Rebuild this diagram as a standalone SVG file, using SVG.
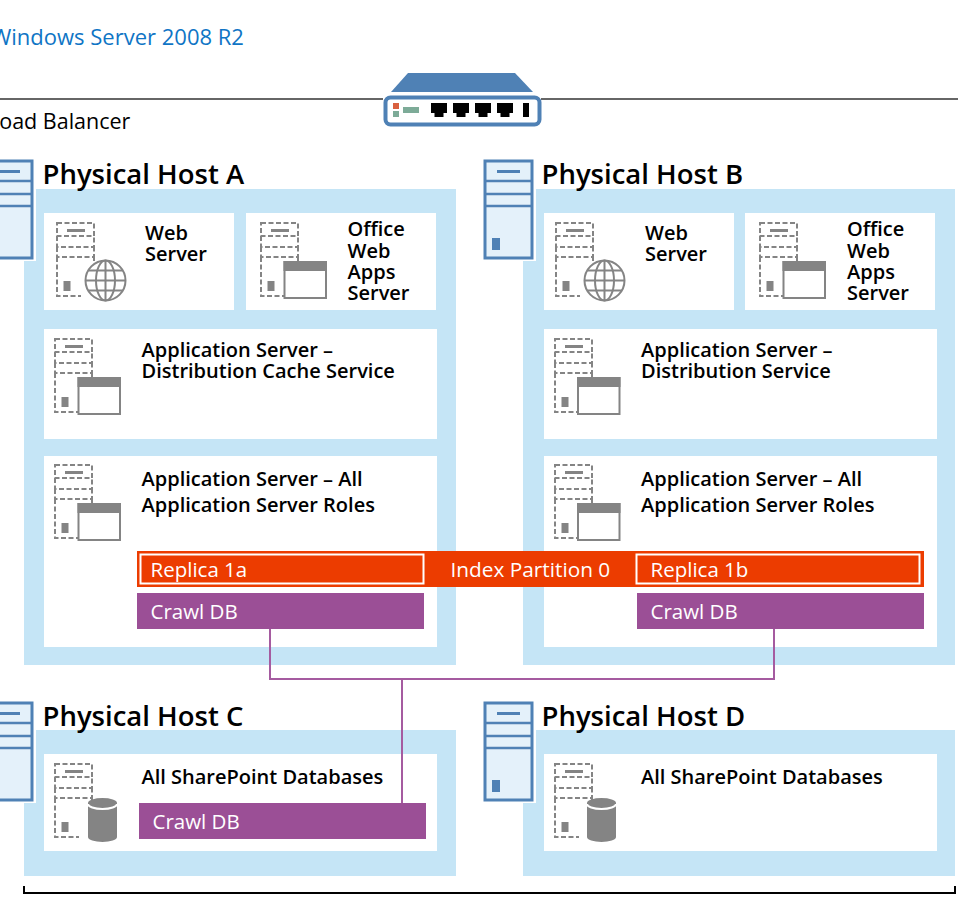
<svg xmlns="http://www.w3.org/2000/svg" width="962" height="898" viewBox="0 0 962 898">
<style>
text{font-family:"Open Sans","Noto Sans","Liberation Sans",sans-serif;fill:#000}
.h{font-size:27.500px;font-weight:600}
.b{font-size:20px;font-weight:600}
.w{font-size:20.500px;font-weight:500;fill:#fff}
.p{fill:#c5e5f6}
.box{fill:#fff}
.sv{fill:#e4f1fa;stroke:#4f81b5;stroke-width:3}
.sl{fill:none;stroke:#4f81b5;stroke-width:2.5}
.d{fill:none;stroke:#848484;stroke-width:2;stroke-dasharray:5 2.5}
.g{fill:#848484}
.o{fill:#ec3c00}
.m{fill:#9b4f96}
.c{fill:none;stroke:#a55ba0;stroke-width:2}
</style>
<defs>
<g id="dash">
<rect class="d" x="0" y="0" width="37" height="13"/>
<path class="d" d="M0 13V24H37V13M0 24V34H37V24M0 34V73H24M37 34V38"/>
<rect class="g" x="10" y="6" width="18" height="3"/>
<rect class="g" x="6.500" y="58" width="7" height="10"/>
</g>
<g id="win">
<rect x="1" y="1" width="41.500" height="36" fill="#fff" stroke="#848484" stroke-width="2"/>
<rect class="g" x="0" y="0" width="43.500" height="10"/>
</g>
<g id="globe" fill="none" stroke="#848484" stroke-width="2">
<circle cx="0" cy="0" r="20" fill="#fff"/>
<ellipse cx="0" cy="0" rx="9.500" ry="20"/>
<path d="M0 -20V20M-20 0H20M-17 -10H17M-17 10H17"/>
</g>
<g id="db">
<path class="g" d="M0 5A14.500 5 0 0 1 29 5V39A14.500 5 0 0 1 0 39Z"/>
<path d="M0 6A14.500 5 0 0 0 29 6" fill="none" stroke="#fff" stroke-width="2"/>
</g>
<g id="port"><path d="M0 0H16V10H12.500V14H3.500V10H0Z" fill="#000"/></g>
<g id="server">
<rect x="-3" y="-3" width="55" height="103" fill="#fff"/>
<rect class="sv" x="1" y="0" width="47" height="97"/>
<path class="sl" d="M1 20H48M1 33H48M1 45H48"/>
<rect x="13" y="9" width="23" height="3" fill="#4f81b5"/>
<rect x="8" y="77" width="8" height="12" fill="#4f81b5"/>
</g>
</defs>

<g id="title">
<text x="-9" y="45" style="font-size:22px;fill:#0f75c5">Windows Server 2008 R2</text>
</g>

<g id="load-balancer">
<path d="M0 99H383M541 99H958" stroke="#666" stroke-width="2" fill="none"/>
<path d="M408 73H515L533 92H391Z" fill="#4f81b5"/>
<rect x="385.500" y="97.500" width="154" height="27" rx="5" fill="#fff" stroke="#4f81b5" stroke-width="4"/>
<rect x="393" y="103" width="6" height="6" fill="#d9603f"/>
<rect x="393" y="111" width="6" height="6" fill="#7dab98"/>
<rect x="403" y="107" width="16" height="6" fill="#7dab98"/>
<use href="#port" x="431" y="103"/>
<use href="#port" x="453" y="103"/>
<use href="#port" x="475" y="103"/>
<use href="#port" x="497" y="103"/>
<rect x="523" y="103" width="6" height="14" fill="#000"/>
<text x="-12" y="129" style="font-size:21.500px">Load Balancer</text>
</g>

<g id="host-a">
<path class="p" d="M36 189H456V665H24V261H36Z"/>
<use href="#server" x="-16" y="161"/>
<text class="h" x="42.500" y="184">Physical Host A</text>
<rect class="box" x="44" y="213" width="190" height="97"/>
<rect class="box" x="246" y="213" width="190" height="97"/>
<rect class="box" x="44" y="329" width="393" height="110"/>
<rect class="box" x="44" y="456" width="393" height="191"/>
<use href="#dash" x="57" y="223"/>
<use href="#globe" x="105.500" y="280.500"/>
<use href="#dash" x="261" y="223"/>
<use href="#win" x="283.500" y="261"/>
<use href="#dash" x="55" y="339"/>
<use href="#win" x="77.500" y="377"/>
<use href="#dash" x="55" y="465"/>
<use href="#win" x="77.500" y="503"/>
<text class="b" x="145" y="240">Web</text>
<text class="b" x="145" y="261">Server</text>
<text class="b" x="347.500" y="236">Office</text>
<text class="b" x="347.500" y="258">Web</text>
<text class="b" x="347.500" y="279">Apps</text>
<text class="b" x="347.500" y="300">Server</text>
<text class="b" x="141.500" y="357">Application Server –</text>
<text class="b" x="141.500" y="378">Distribution Cache Service</text>
<text class="b" x="141.500" y="486">Application Server – All</text>
<text class="b" x="141.500" y="512">Application Server Roles</text>
</g>

<g id="host-b">
<path class="p" d="M535 189H955V665H523V261H535Z"/>
<use href="#server" x="484" y="161"/>
<text class="h" x="541.500" y="184">Physical Host B</text>
<rect class="box" x="544" y="213" width="190" height="97"/>
<rect class="box" x="745" y="213" width="190" height="97"/>
<rect class="box" x="544" y="329" width="393" height="110"/>
<rect class="box" x="544" y="456" width="393" height="191"/>
<use href="#dash" x="556" y="223"/>
<use href="#globe" x="604.500" y="280.500"/>
<use href="#dash" x="760" y="223"/>
<use href="#win" x="782.500" y="261"/>
<use href="#dash" x="555" y="339"/>
<use href="#win" x="577" y="377"/>
<use href="#dash" x="555" y="465"/>
<use href="#win" x="577" y="503"/>
<text class="b" x="645" y="240">Web</text>
<text class="b" x="645" y="261">Server</text>
<text class="b" x="847" y="236">Office</text>
<text class="b" x="847" y="258">Web</text>
<text class="b" x="847" y="279">Apps</text>
<text class="b" x="847" y="300">Server</text>
<text class="b" x="641" y="357">Application Server –</text>
<text class="b" x="641" y="378">Distribution Service</text>
<text class="b" x="641" y="486">Application Server – All</text>
<text class="b" x="641" y="512">Application Server Roles</text>
</g>

<g id="host-c">
<path class="p" d="M36 730H456V876H24V802H36Z"/>
<use href="#server" x="-16" y="703"/>
<text class="h" x="42.500" y="726">Physical Host C</text>
<rect class="box" x="44" y="754" width="393" height="97"/>
<use href="#dash" x="55" y="764"/>
<use href="#db" x="88" y="798"/>
<text class="b" x="141.500" y="784">All SharePoint Databases</text>
</g>

<g id="host-d">
<path class="p" d="M535 730H955V876H523V802H535Z"/>
<use href="#server" x="484" y="703"/>
<text class="h" x="541.500" y="726">Physical Host D</text>
<rect class="box" x="544" y="754" width="393" height="97"/>
<use href="#dash" x="555" y="764"/>
<use href="#db" x="587" y="798"/>
<text class="b" x="641" y="784">All SharePoint Databases</text>
</g>

<g id="index-partition">
<rect class="o" x="137" y="551" width="787" height="36"/>
<rect x="140.500" y="554.500" width="283" height="29" fill="none" stroke="#fff" stroke-width="2"/>
<rect x="636.500" y="554.500" width="283" height="29" fill="none" stroke="#fff" stroke-width="2"/>
<text class="w" x="150.500" y="577">Replica 1a</text>
<text class="w" x="450.500" y="577" style="font-size:20.800px">Index Partition 0</text>
<text class="w" x="650.500" y="577">Replica 1b</text>
</g>

<g id="crawl-db-a"><rect class="m" x="137" y="593" width="287" height="36"/><text class="w" x="150.500" y="619">Crawl DB</text></g>
<g id="crawl-db-b"><rect class="m" x="637" y="593" width="287" height="36"/><text class="w" x="650.500" y="619">Crawl DB</text></g>
<g id="crawl-db-c"><rect class="m" x="139" y="803" width="287" height="36"/><text class="w" x="152.500" y="829">Crawl DB</text></g>

<g id="connectors">
<path class="c" d="M270 629V679H774V629M402 679V803"/>
</g>

<g id="bracket">
<path d="M24 886V893H955V886" fill="none" stroke="#000" stroke-width="2"/>
</g>
</svg>
